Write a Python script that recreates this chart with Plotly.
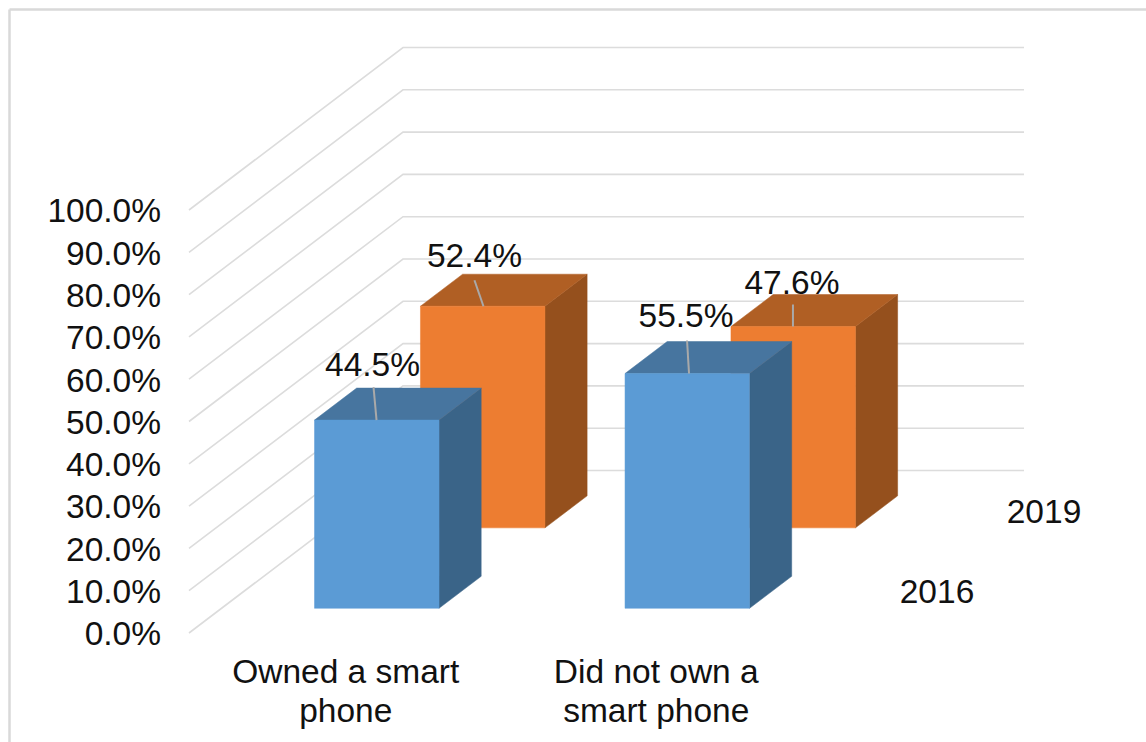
import plotly.graph_objects as go

# ---- data ----
categories = [["Owned a smart", "phone"], ["Did not own a", "smart phone"]]
series_names = ["2016", "2019"]
values_2016 = [44.5, 55.5]
values_2019 = [52.4, 47.6]
tick_values = [0, 10, 20, 30, 40, 50, 60, 70, 80, 90, 100]

# ---- oblique projection of the 3-D chart box onto the page ----
ORIGIN_X, ORIGIN_Y = 189.0, 633.0
H_SCALE = 4.23          # page px per percentage point
DEPTH_X, DEPTH_Y = 214.0, -162.5
WALL_W = 621.0
BAR_W = 124.5
BAR_D = 0.197
CAT_X = [93.0, 403.5]
SERIES_T = [0.152, 0.647]
GRID = "#dcdcdc"
FONT = dict(family="Liberation Sans, Arial, sans-serif", size=33.5, color="#111111")


def proj(x, v, t):
    return ORIGIN_X + x + DEPTH_X * t, ORIGIN_Y - H_SCALE * v + DEPTH_Y * t


fig = go.Figure()


def poly(points, color):
    xs, ys = zip(*points)
    fig.add_trace(go.Scatter(x=list(xs) + [xs[0]], y=list(ys) + [ys[0]], mode="lines", fill="toself",
                             fillcolor=color, line=dict(color=color, width=0.5),
                             hoverinfo="skip", showlegend=False))


def line(points, color, width):
    xs, ys = zip(*points)
    fig.add_trace(go.Scatter(x=list(xs), y=list(ys), mode="lines", line=dict(color=color, width=width),
                             hoverinfo="skip", showlegend=False))


def text(x, y, s, pos="middle center"):
    fig.add_trace(go.Scatter(x=[x], y=[y], mode="text", text=[s], textposition=pos,
                             textfont=FONT, hoverinfo="skip", showlegend=False))


# gridlines: floor/side wall diagonal + back wall horizontal
for v in tick_values:
    a = proj(0, v, 0)
    b = proj(0, v, 1)
    c = proj(WALL_W, v, 1)
    line([a, b, c], GRID, 1.6)


def bar(cat_i, t0, v, front, top, side):
    x0 = CAT_X[cat_i]
    x1 = x0 + BAR_W
    t1 = t0 + BAR_D
    poly([proj(x1, 0, t0), proj(x1, 0, t1), proj(x1, v, t1), proj(x1, v, t0)], side)
    poly([proj(x0, v, t0), proj(x1, v, t0), proj(x1, v, t1), proj(x0, v, t1)], top)
    poly([proj(x0, 0, t0), proj(x1, 0, t0), proj(x1, v, t0), proj(x0, v, t0)], front)


# back row first, then the front row on top
for i, v in enumerate(values_2019):
    bar(i, SERIES_T[1], v, "#ed7d31", "#b05f24", "#95501d")
for i, v in enumerate(values_2016):
    bar(i, SERIES_T[0], v, "#5b9bd5", "#47759f", "#3a6488")

# leader lines + data labels: (series, value, cat, foot px along front edge,
# leader top offset, label offset from foot)
labels = [
    (0, values_2016[0], 0, 62, (-3, -33), (-4, -52)),
    (1, values_2019[0], 0, 63, (-9, -26), (-9, -48)),
    (0, values_2016[1], 1, 64, (-2, -33), (-3, -55)),
    (1, values_2019[1], 1, 62, (0, -22), (-1, -41)),
]
for s, v, c, foot, lead, lab in labels:
    fx, fy = proj(CAT_X[c] + foot, v, SERIES_T[s])
    line([(fx, fy), (fx + lead[0], fy + lead[1])], "#a9a9a9", 2)
for s, v, c, foot, lead, lab in labels:
    fx, fy = proj(CAT_X[c] + foot, v, SERIES_T[s])
    text(fx + lab[0], fy + lab[1], f"{v:.1f}%")

# value axis labels
for v in tick_values:
    x, y = proj(0, v, 0)
    text(x - 28, y + 4, f"{v:.1f}%", "middle left")

# category labels
for i, c in enumerate(categories):
    x, y = proj(CAT_X[i] + BAR_W / 2, 0, 0)
    for j, row in enumerate(c):
        text(x + 1.5, 675 + 39 * j, row)

# series labels
text(937, 595, series_names[0])
text(1044, 515, series_names[1])

# outer frame
fig.update_layout(
    width=1146, height=742, margin=dict(l=0, r=0, t=0, b=0),
    paper_bgcolor="white", plot_bgcolor="white", showlegend=False,
    xaxis=dict(range=[0, 1146], visible=False, fixedrange=True),
    yaxis=dict(range=[742, 0], visible=False, fixedrange=True),
    shapes=[
        dict(type="line", x0=9.5, x1=9.5, y0=9.5, y1=742, line=dict(color="#d9d9d9", width=2.5)),
        dict(type="line", x0=9.5, x1=1146, y0=9.5, y1=9.5, line=dict(color="#d9d9d9", width=2.5)),
    ],
)

fig.write_html("out.html", config={"displayModeBar": False},
               post_script="document.body.style.margin='0';document.body.style.overflow='hidden';")
